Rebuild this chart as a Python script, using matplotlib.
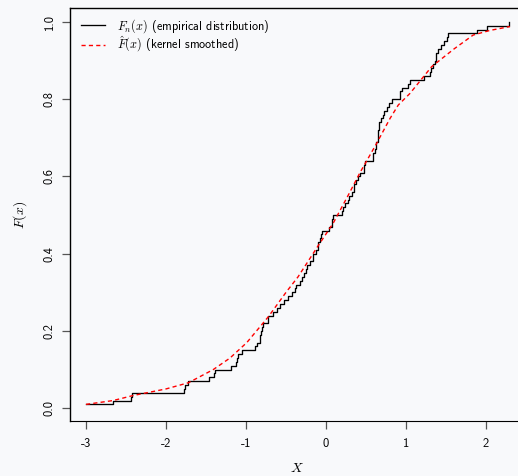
import numpy as np
import matplotlib
matplotlib.use("Agg")
import matplotlib.pyplot as plt

# sorted sample values (jump points of the empirical cdf)
samples = [-3.00, -2.66, -2.44, -2.43, -1.78, -1.76, -1.73, -1.46, -1.40, -1.39,
           -1.19, -1.13, -1.11, -1.10, -1.05, -0.89, -0.86, -0.83, -0.82, -0.81,
           -0.80, -0.79, -0.73, -0.72, -0.66, -0.61, -0.575, -0.52, -0.47, -0.42,
           -0.39, -0.37, -0.325, -0.30, -0.28, -0.245, -0.24, -0.20, -0.165, -0.16,
           -0.12, -0.105, -0.10, -0.075, -0.06, -0.055, 0.04, 0.07, 0.08, 0.09,
           0.205, 0.21, 0.24, 0.27, 0.29, 0.32, 0.345, 0.35, 0.38, 0.40,
           0.425, 0.47, 0.48, 0.49, 0.585, 0.59, 0.61, 0.625, 0.63, 0.645,
           0.65, 0.655, 0.658, 0.66, 0.69, 0.715, 0.72, 0.76, 0.79, 0.82,
           0.92, 0.925, 0.95, 1.03, 1.05, 1.225, 1.305, 1.31, 1.34, 1.36,
           1.375, 1.38, 1.40, 1.44, 1.47, 1.51, 1.53, 1.89, 2.01, 2.29]

# kernel smoothed cdf
smooth_x = [-3.0, -2.66, -2.41, -2.0, -1.72, -1.41, -1.2, -0.99, -0.72, -0.5,
            -0.35, -0.1, 0.09, 0.3, 0.425, 0.634, 0.8, 0.904, 1.05, 1.32,
            1.6, 1.84, 2.05, 2.3]
smooth_F = [0.010, 0.020, 0.033, 0.05, 0.066, 0.10, 0.13, 0.17, 0.237, 0.30,
            0.34, 0.42, 0.479, 0.56, 0.61, 0.686, 0.75, 0.785, 0.815, 0.884,
            0.93, 0.966, 0.978, 0.988]

xticks = [-3, -2, -1, 0, 1, 2]
xticklabels = ['-3', '-2', '-1', '0', '1', '2']
yticks = [0.0, 0.2, 0.4, 0.6, 0.8, 1.0]
yticklabels = ['0.0', '0.2', '0.4', '0.6', '0.8', '1.0']

plt.rcParams['mathtext.fontset'] = 'cm'
plt.rcParams['font.family'] = ['cmss10', 'DejaVu Sans']
plt.rcParams['axes.unicode_minus'] = False
bg = '#f8f9fb'

fig = plt.figure(figsize=(5.18, 4.76), dpi=100, facecolor=bg)
ax = fig.add_axes([70/518, 55/476, 482/518, 413/476], facecolor=bg)

xs = np.array(samples)
Fn = np.arange(1, len(xs)+1) / len(xs)
ax.step(xs, Fn, where='post', color='black', lw=0.95, label=r'$F_n(x)$ (empirical distribution)')
ax.plot(smooth_x, smooth_F, color='red', lw=1.0, dashes=(3, 2.3), label=r'$\hat{F}(x)$ (kernel smoothed)')

ax.set_xlim(-3.2, 2.825)
ax.set_ylim(-0.033, 1.036)
ax.set_xticks(xticks)
ax.set_xticklabels(xticklabels, fontsize=9)
ax.set_yticks(yticks)
ax.set_yticklabels(yticklabels, fontsize=9, rotation=90, va='center')
ax.tick_params(axis='x', length=5.5, width=0.9, color='#555555', pad=7)
ax.tick_params(axis='y', length=5.5, width=0.9, color='#555555', pad=5)
for s in ['left', 'top']:
    ax.spines[s].set_linewidth(1.0)
ax.spines['right'].set_visible(False)

fig.text(297/518, 1-468/476, r'$X$', fontsize=10, ha='center', va='center')
fig.text(20/518, 1-215/476, r'$F(x)$', fontsize=10, ha='center', va='center', rotation=90)

ax.legend(loc='upper left', bbox_to_anchor=(0.017, 0.984), frameon=False, fontsize=8.8,
          handlelength=2.0, handletextpad=1.0, labelspacing=0.0, borderaxespad=0, borderpad=0.2)

fig.savefig('out.png', dpi=100, facecolor=bg)
